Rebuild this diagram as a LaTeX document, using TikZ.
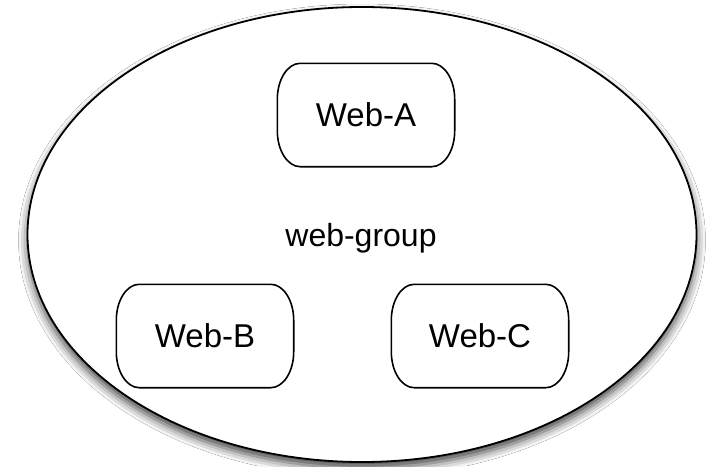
\documentclass[tikz,border=0pt]{standalone}
\usepackage{fontspec}
\setmainfont{Liberation Sans}
\usetikzlibrary{shapes.geometric,shadows.blur}

% outline of a member box: straight top and bottom, bulging sides
\newcommand\memberoutline[1]{%
  \draw[memberline]
    ([xshift=23pt]#1.north west) -- ([xshift=-23pt]#1.north east)
    arc[start angle=90,end angle=0,x radius=23pt,y radius=36pt]
    -- ([yshift=36pt]#1.south east)
    arc[start angle=0,end angle=-90,x radius=23pt,y radius=36pt]
    -- ([xshift=23pt]#1.south west)
    arc[start angle=270,end angle=180,x radius=23pt,y radius=36pt]
    -- ([yshift=-36pt]#1.north west)
    arc[start angle=180,end angle=90,x radius=23pt,y radius=36pt]
    -- cycle;}

\tikzset{
  memberline/.style={line width=1.6pt, black},
  member/.style={rectangle, inner sep=0pt, minimum width=177pt, minimum height=103pt,
    font=\fontsize{33}{40}\selectfont},
  groupshape/.style={ellipse, draw=black, line width=1.8pt, fill=white, inner sep=0pt,
    minimum width=669pt, minimum height=455pt,
    blur shadow={shadow xshift=0pt, shadow yshift=-6pt, shadow blur radius=9pt, shadow opacity=75}},
  grouplabel/.style={font=\fontsize{32}{38}\selectfont}
}

\begin{document}
\begin{tikzpicture}[x=1pt,y=-1pt]
  \useasboundingbox[fill=white] (0,0) rectangle (709,466);
  \node[groupshape] (group) at (362,234.5) {};
  \node[grouplabel] (glabel) at (361,238) {web-group};
  \node[member] (webA) at (366,115) {Web-A};
  \node[member] (webB) at (205,336) {Web-B};
  \node[member] (webC) at (480,336) {Web-C};
  \memberoutline{webA}
  \memberoutline{webB}
  \memberoutline{webC}
\end{tikzpicture}
\end{document}
